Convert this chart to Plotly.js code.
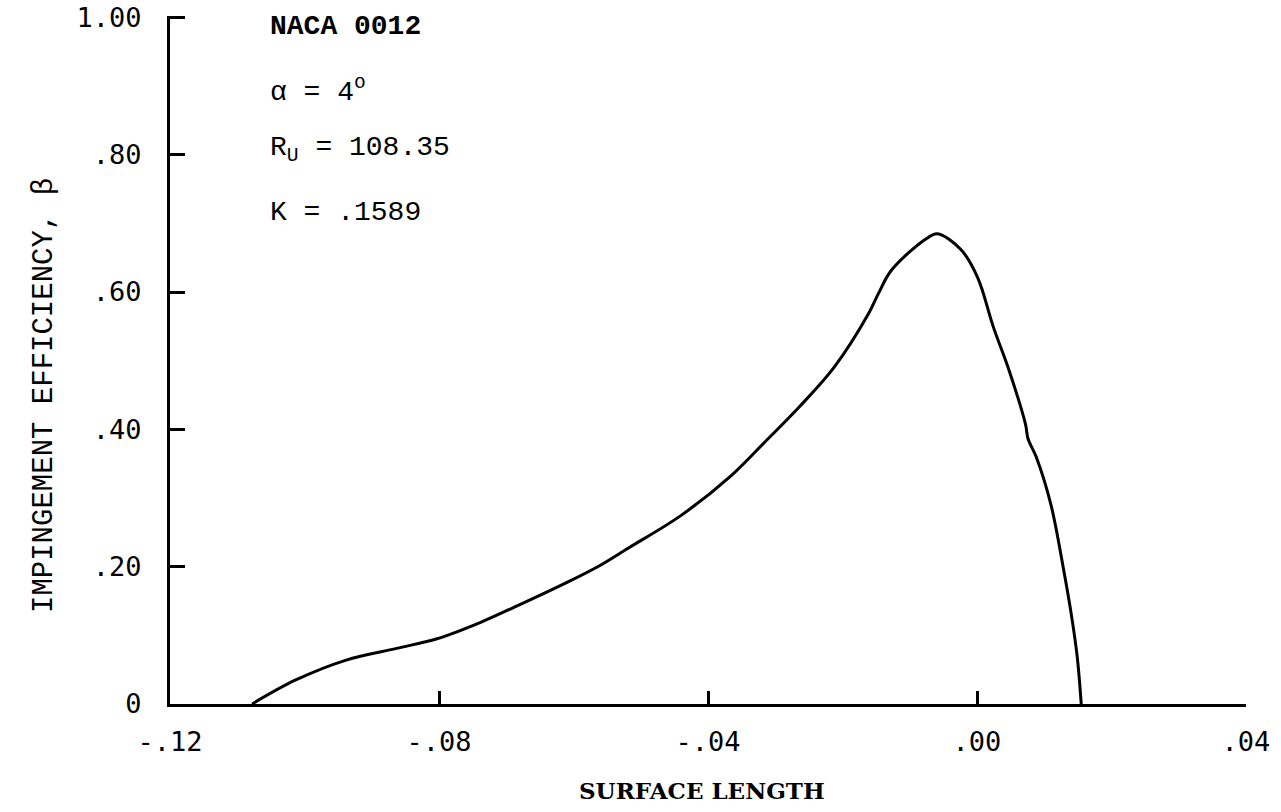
<!DOCTYPE html>
<html>
<head>
<meta charset="utf-8">
<script src="https://cdn.plot.ly/plotly-3.0.1.min.js"></script>
<style>
html,body{margin:0;padding:0;background:#fff;}
#chart{width:1281px;height:812px;}
</style>
</head>
<body>
<div id="chart"></div>
<script>
// Surface length (x) and impingement efficiency beta (y)
const surfaceLength = [-0.1078, -0.1013, -0.0938, -0.0863, -0.0803, -0.0738, -0.0688, -0.0612,
  -0.0562, -0.0517, -0.0441, -0.0365, -0.0315, -0.0263, -0.0212, -0.0161, -0.0147, -0.0127,
  -0.0075, -0.0059, -0.0024, 0.0001, 0.0024, 0.0048, 0.0072, 0.0076, 0.0088, 0.0110,
  0.0128, 0.0140, 0.0149, 0.0155];
const efficiency = [0.000, 0.035, 0.064, 0.081, 0.095, 0.119, 0.141, 0.176,
  0.201, 0.228, 0.274, 0.333, 0.382, 0.434, 0.491, 0.569, 0.597, 0.632,
  0.678, 0.685, 0.662, 0.621, 0.550, 0.485, 0.408, 0.386, 0.360, 0.290,
  0.200, 0.132, 0.069, 0.000];

const xTickVals = [-0.12, -0.08, -0.04, 0.00, 0.04];
const xTickText = ["-.12", "-.08", "-.04", ".00", ".04"];
const yTickVals = [0, 0.2, 0.4, 0.6, 0.8, 1.0];
const yTickText = ["0", ".20", ".40", ".60", ".80", "1.00"];

const infoLines = ["NACA 0012", "α = 4<sup>o</sup>", "R<sub>U</sub> = 108.35", "K = .1589"];
const xTitle = "SURFACE LENGTH";
const yTitle = "IMPINGEMENT EFFICIENCY, β";

const textFont = {family: "Liberation Mono, Courier New, monospace", size: 28, color: "#000"};
const yTitleFont = {family: "Liberation Mono, Courier New, monospace", size: 29, color: "#000"};
const serifFont = {family: "DejaVu Serif, Liberation Serif, serif", size: 23, color: "#000", weight: "bold"};
const tickFont = {family: "DejaVu Sans Mono, monospace", size: 27, color: "#000"};

const trace = {
  x: surfaceLength, y: efficiency, type: "scatter", mode: "lines",
  line: {color: "#000", width: 3, shape: "spline", smoothing: 1},
  hoverinfo: "skip", showlegend: false
};

const L = 170, T = 16, W = 1076, H = 688;
const infoY = [26, 90, 149, 212];
const annotations = infoLines.map((t, i) => ({
  text: t, xref: "paper", yref: "paper",
  x: (268 - L) / W, y: 1 - (infoY[i] - T) / H,
  xanchor: "left", yanchor: "middle", showarrow: false,
  font: Object.assign({}, textFont, i === 0 ? {weight: "bold"} : {})
}));
annotations.push({
  text: xTitle, xref: "paper", yref: "paper",
  x: (702 - L) / W, y: 1 - (790 - T) / H,
  xanchor: "center", yanchor: "middle", showarrow: false, font: serifFont
});
annotations.push({
  text: yTitle, xref: "paper", yref: "paper", textangle: -90,
  x: (44 - L) / W, y: 1 - (396 - T) / H,
  xanchor: "center", yanchor: "middle", showarrow: false, font: yTitleFont
});

const layout = {
  width: 1281, height: 812,
  margin: {l: L, r: 1281 - L - W, t: T, b: 812 - T - H, pad: 0},
  paper_bgcolor: "#fff", plot_bgcolor: "#fff",
  showlegend: false,
  xaxis: {
    range: [-0.12, 0.04], tickvals: xTickVals, ticktext: xTickText,
    showline: true, linecolor: "#000", linewidth: 3,
    ticks: "inside", ticklen: 13, tickwidth: 3, tickcolor: "#000",
    showgrid: false, zeroline: false, tickfont: tickFont,
    ticklabelstandoff: 12, fixedrange: true
  },
  yaxis: {
    range: [0, 1.002], tickvals: yTickVals, ticktext: yTickText,
    showline: true, linecolor: "#000", linewidth: 3,
    ticks: "inside", ticklen: 15, tickwidth: 3, tickcolor: "#000",
    showgrid: false, zeroline: false, tickfont: tickFont,
    ticklabelstandoff: 20, ticklabeloverflow: "allow", fixedrange: true
  },
  annotations: annotations
};

Plotly.newPlot("chart", [trace], layout, {displayModeBar: false, staticPlot: true});
</script>
</body>
</html>
